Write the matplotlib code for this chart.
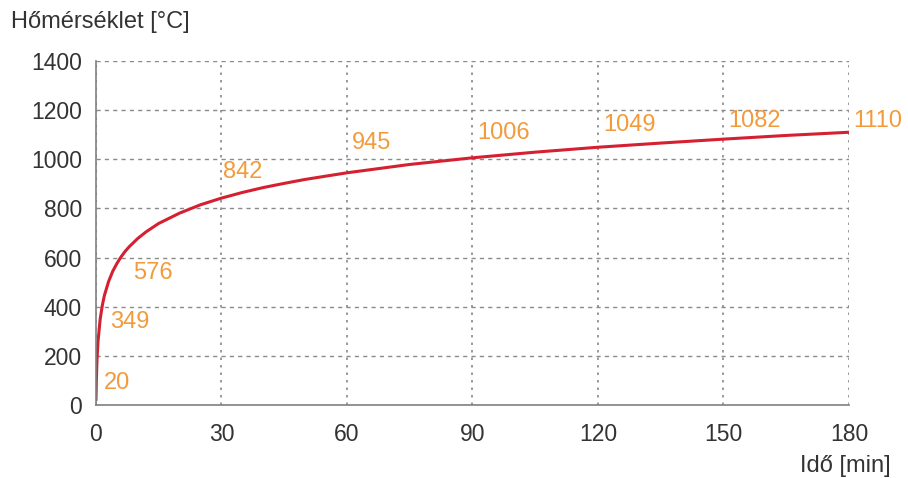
import matplotlib.pyplot as plt

plt.rcParams['font.family'] = ['Liberation Sans', 'DejaVu Sans']

# idő [min] és hőmérséklet [°C] a görbe mentén
ido = [0, 0.1, 0.25, 0.5, 1, 1.5, 2, 3, 4, 5, 6, 7, 8, 10, 12, 15, 20, 25,
       30, 35, 40, 45, 50, 60, 75, 90, 105, 120, 135, 150, 165, 180]
homerseklet = [20, 108, 185, 261, 349, 404, 445, 502, 544, 576, 603, 626,
               645, 678, 705, 739, 781, 815, 842, 865, 885, 902, 918, 945,
               979, 1006, 1029, 1049, 1066, 1082, 1097, 1110]

# feliratozott pontok
cimke_ido = [0, 1, 5, 30, 60, 90, 120, 150, 180]
cimke_ertek = [20, 349, 576, 842, 945, 1006, 1049, 1082, 1110]
cimke_eltolas = [(8, 17), (10, -3), (16, -10), (2, 26), (5, 30), (5, 25),
                 (5, 22), (5, 18), (4, 11)]

fig = plt.figure(figsize=(9.08, 4.78), dpi=100)
ax = fig.add_axes([0.1057, 0.1527, 0.8293, 0.7197])

ax.plot(ido, homerseklet, color='#d42030', linewidth=2.2,
        solid_capstyle='round', solid_joinstyle='round')

for t, v, off in zip(cimke_ido, cimke_ertek, cimke_eltolas):
    ax.annotate(str(v), (t, v), xytext=off, textcoords='offset pixels',
                ha='left', va='center', fontsize=17, color='#f39a3a')

ax.set_xlim(0, 180)
ax.set_ylim(0, 1400)
ax.set_xticks(range(0, 181, 30))
ax.set_yticks(range(0, 1401, 200))

ax.xaxis.grid(True, linestyle=(0, (1.5, 3)), color='#8a8a8a', linewidth=1.2)
ax.yaxis.grid(True, linestyle=(0, (3, 3)), color='#8a8a8a', linewidth=1.0)
ax.set_axisbelow(True)

for s in ['top', 'right']:
    ax.spines[s].set_visible(False)
for s in ['left', 'bottom']:
    ax.spines[s].set_color('#808080')
    ax.spines[s].set_linewidth(1.2)

ax.tick_params(length=0, labelsize=16.5, labelcolor='#333333')
ax.tick_params(axis='y', pad=10)
ax.tick_params(axis='x', pad=13)

fig.text(0.012, 0.954, 'Hőmérséklet [°C]', fontsize=17, color='#333333',
         ha='left', va='center')
fig.text(0.981, 0.025, 'Idő [min]', fontsize=17, color='#333333',
         ha='right', va='center')

fig.savefig('out.png', dpi=100)
